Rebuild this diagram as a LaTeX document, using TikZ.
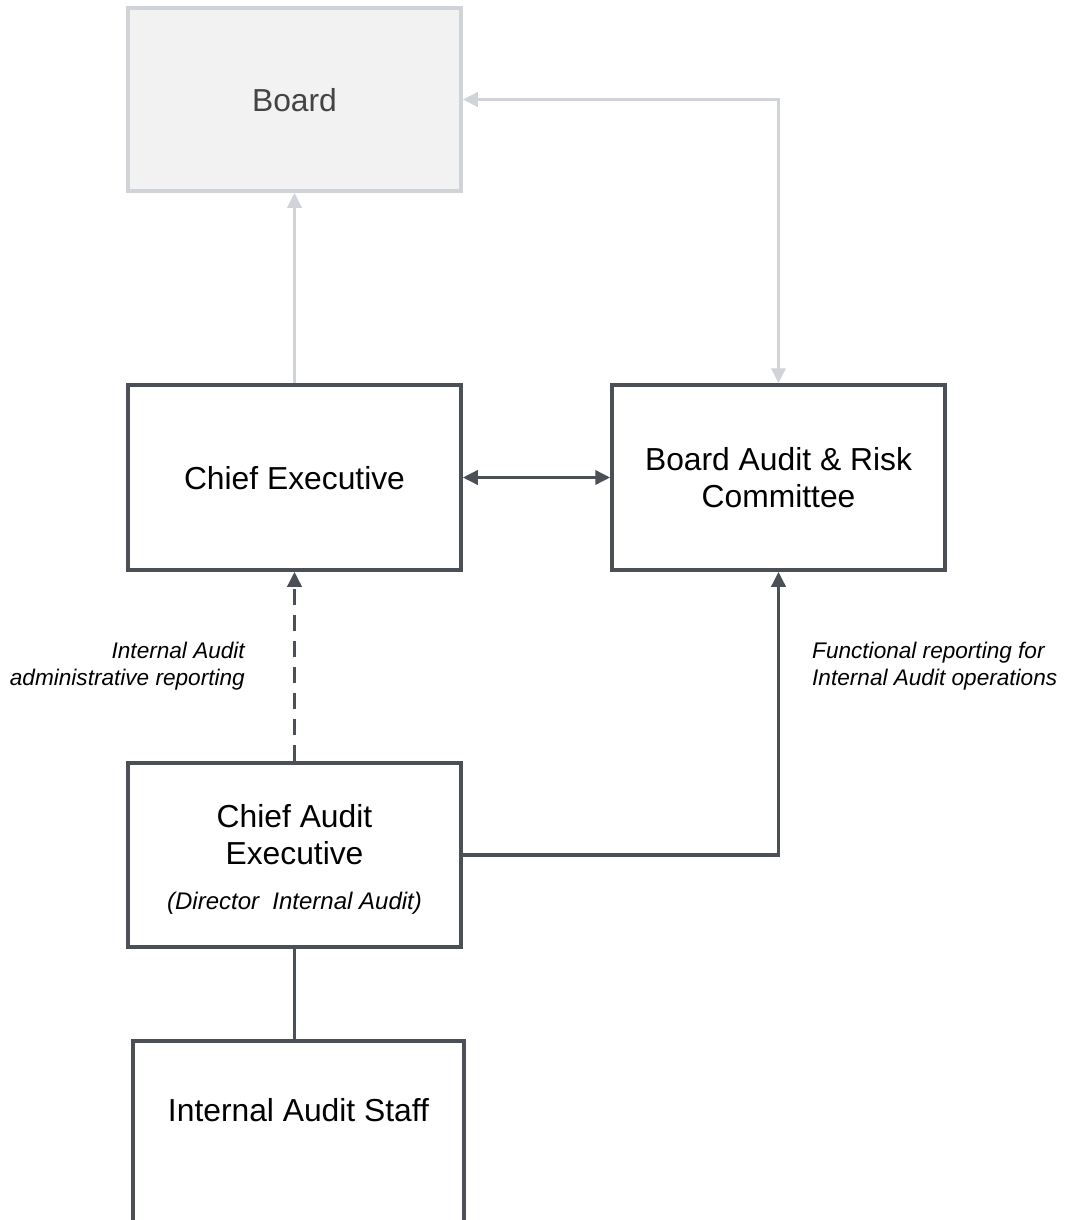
\documentclass[tikz,border=0pt]{standalone}
\usepackage{fontspec}
\setmainfont{Liberation Sans}
\usetikzlibrary{arrows.meta}
\definecolor{ink}{HTML}{4A5056}
\definecolor{pale}{HTML}{D0D4D8}
\definecolor{palebg}{HTML}{F2F2F2}
\definecolor{paletext}{HTML}{444444}
\tikzset{
  box/.style={draw=ink, line width=3.5pt, minimum width=333pt, minimum height=185pt, inner sep=0pt},
  boxm/.style={draw=pale, fill=palebg, line width=3.5pt, minimum width=333pt, minimum height=183pt, inner sep=0pt},
  link/.style={draw=ink, line width=3.5pt},
  linkm/.style={draw=pale, line width=3.5pt},
  lab/.style={font=\fontsize{31.8}{37}\selectfont, align=center, inner sep=0pt},
  labs/.style={font=\fontsize{24}{29}\selectfont\itshape, inner sep=0pt},
  note/.style={font=\fontsize{22.6}{27}\selectfont\itshape, inner sep=0pt},
  >={Triangle[length=15pt, width=14pt]},
}
\begin{document}
\begin{tikzpicture}[x=1pt, y=-1pt]
  \useasboundingbox (0,0) rectangle (1066,1220);

  % boxes
  \node[boxm] (board) at (294.5,99.5) {};
  \node[box] (ce) at (294.5,477.5) {};
  \node[box] (barc) at (778.5,477.5) {};
  \node[box, minimum height=184pt] (cae) at (294.5,855) {};
  \node[box, minimum width=331pt, minimum height=191pt, anchor=north] (ias) at (298.5,1039) {};

  % box texts
  \node[lab, text=paletext] (boardt) at (294.5,100) {Board};
  \node[lab] (cet) at (294.5,478) {Chief Executive};
  \node[lab] (barct) at (778.5,478) {Board Audit \& Risk\\Committee};
  \node[lab] (caet) at (294.5,834.5) {Chief Audit\\Executive};
  \node[labs, anchor=base] (caes) at (294.5,909) {(Director\ \ Internal Audit)};
  \node[lab] (iast) at (298.5,1110) {Internal Audit Staff};

  % pale links up to the board
  \draw[linkm, ->] (ce.north) -- (board.south);
  \coordinate (bend) at (barc.north |- board.east);
  \draw[linkm, <->] (board.east) -- (bend) -- (barc.north);

  % dark links
  \draw[link, <->] (ce.east) -- (barc.west);
  \draw[link, ->, dash pattern=on 16pt off 10pt] (cae.north) -- (ce.south);
  \coordinate (turn) at (barc.south |- cae.east);
  \draw[link, ->] (cae.east) -- (turn) -- (barc.south);
  \draw[link] (cae.south) -- (cae.south |- ias.north);

  % notes
  \node[note, align=right, anchor=east] (adm) at (245,666) {Internal Audit\\administrative reporting};
  \node[note, align=left, anchor=west] (fun) at (812,666) {Functional reporting for\\Internal Audit operations};
\end{tikzpicture}
\end{document}
